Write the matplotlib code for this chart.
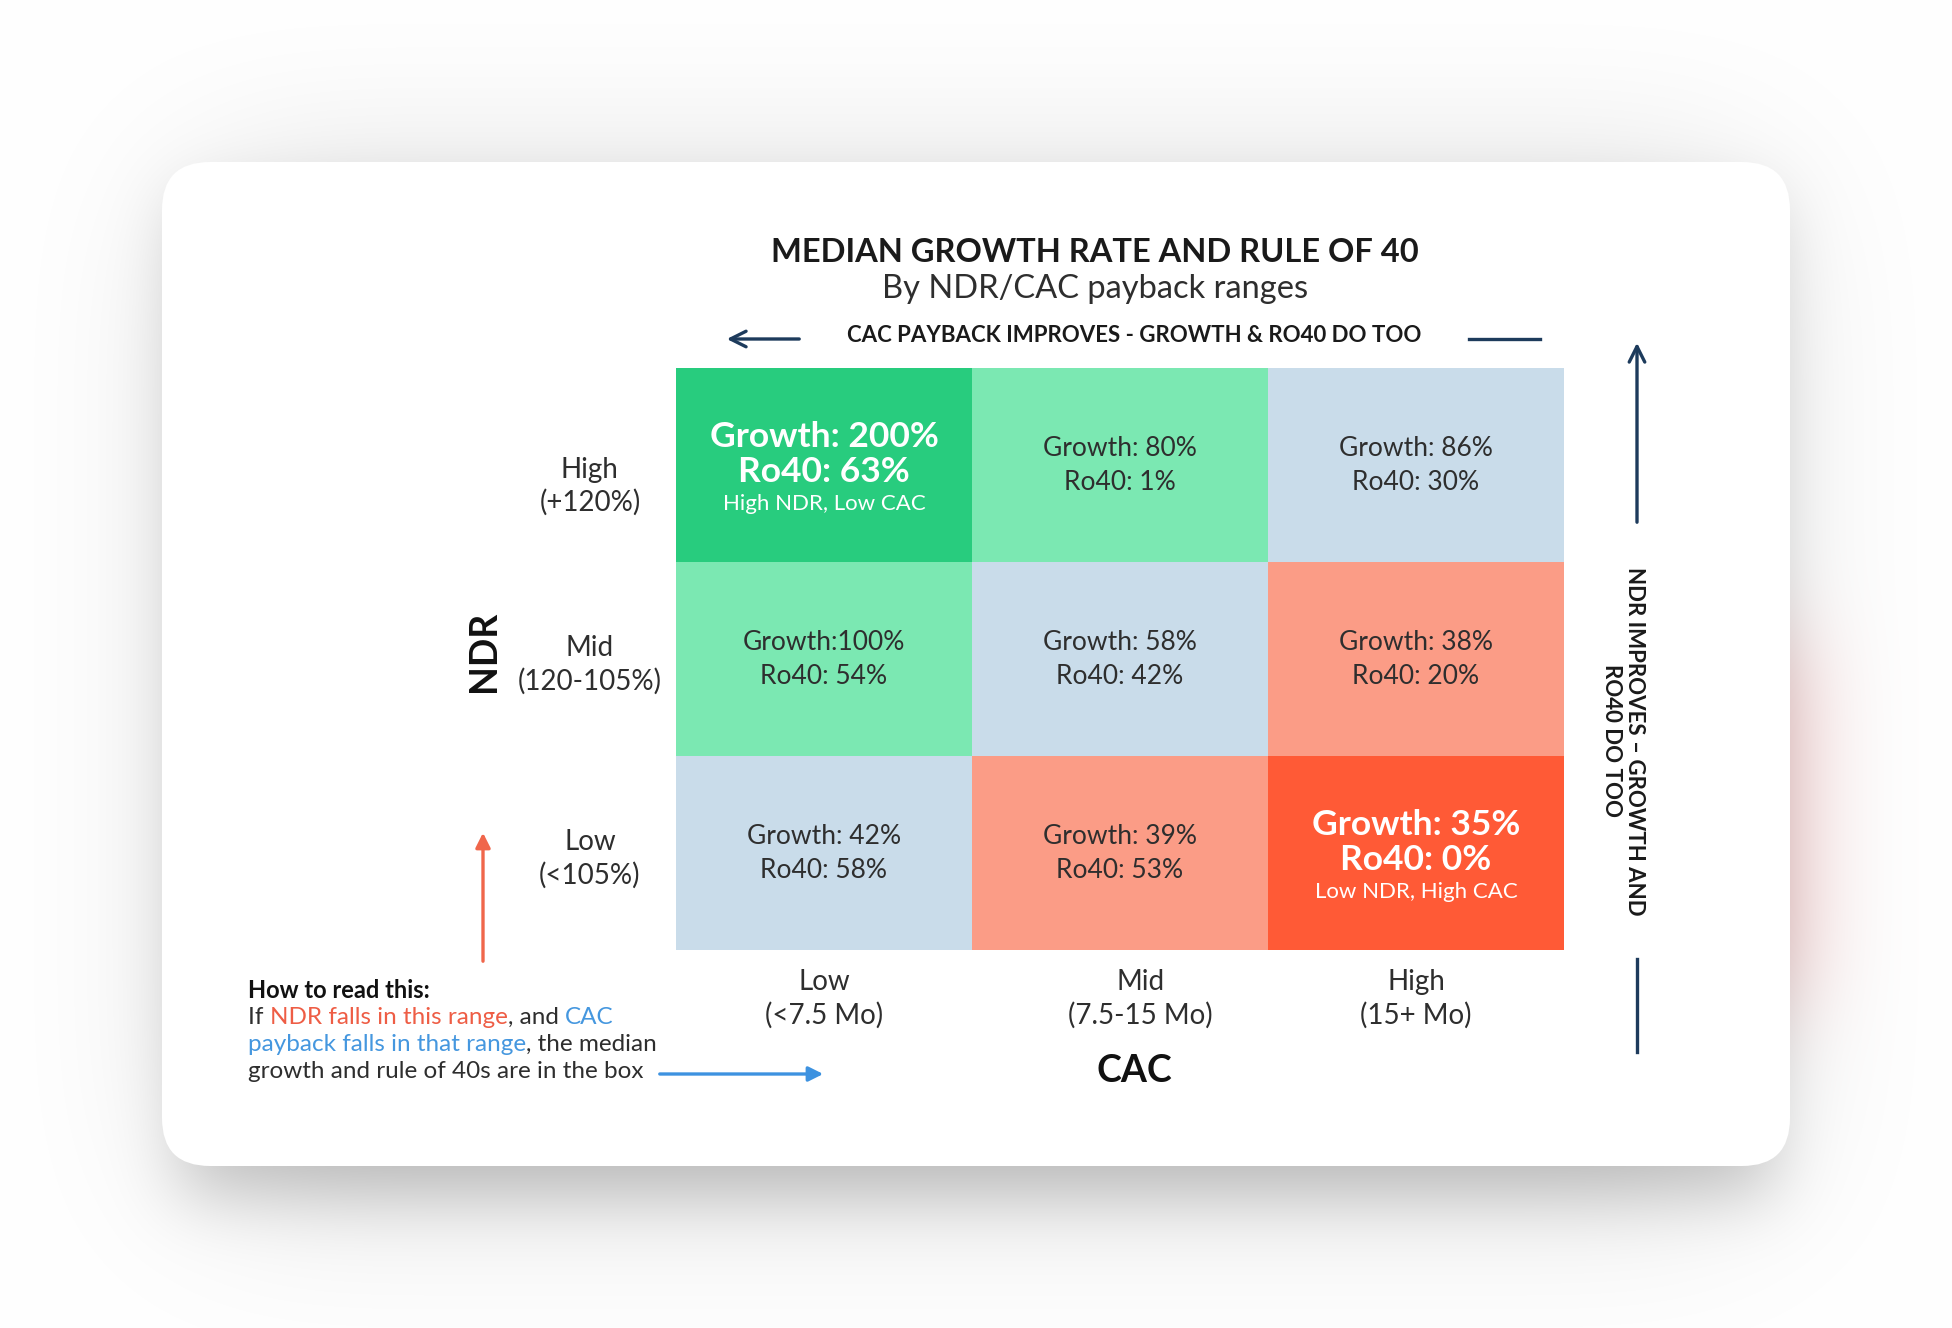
import numpy as np
import matplotlib.pyplot as plt
from matplotlib.colors import ListedColormap
from matplotlib.patches import FancyBboxPatch

plt.rcParams['font.family'] = ['Lato', 'DejaVu Sans']

# --- data -------------------------------------------------------------
ndr_levels = ["High\n(+120%)", "Mid\n(120-105%)", "Low\n(<105%)"]
cac_levels = ["Low\n(<7.5 Mo)", "Mid\n(7.5-15 Mo)", "High\n(15+ Mo)"]
growth = np.array([[200, 80, 86],
                   [100, 58, 38],
                   [42, 39, 35]])
ro40 = np.array([[63, 1, 30],
                 [54, 42, 20],
                 [58, 53, 0]])
tier = np.array([[4, 3, 2],
                 [3, 2, 1],
                 [2, 1, 0]])
notes = {(0, 0): "High NDR, Low CAC", (2, 2): "Low NDR, High CAC"}

tier_colors = ["#ff5a36", "#fb9c86", "#c9dcea", "#7be8b2", "#28cc7e"]
navy = "#1d3b5c"
dark = "#2e2e2e"
red_txt = "#ee5d45"
blue_txt = "#4597df"

W, H = 1952, 1328
fig = plt.figure(figsize=(W / 100, H / 100), dpi=100)
fig.patch.set_facecolor('white')

bg = fig.add_axes([0, 0, 1, 1])
bg.axis('off')


def box1d(a, r, axis):
    a = np.moveaxis(a, axis, -1)
    p = np.pad(a, [(0, 0)] * (a.ndim - 1) + [(r + 1, r)], mode='edge')
    c = np.cumsum(p, axis=-1)
    out = (c[..., 2 * r + 1:] - c[..., :-2 * r - 1]) / (2 * r + 1)
    return np.moveaxis(out, -1, axis)


def blur(a, r):
    for _ in range(3):
        a = box1d(box1d(a, r, 0), r, 1)
    return a


# soft drop shadow behind the card (a wide haze plus a tighter shadow)
yy, xx = np.mgrid[0:H, 0:W]
wide_mask = ((xx >= 200) & (xx <= 1750) & (yy >= 190) & (yy <= 1180)).astype(float)
near_mask = ((xx >= 180) & (xx <= 1772) & (yy >= 200) & (yy <= 1195)).astype(float)
shade = blur(wide_mask, 85) * 0.16 + blur(near_mask, 30) * 0.17
red_mask = ((xx >= 1700) & (xx <= 1800) & (yy >= 640) & (yy <= 1000)).astype(float)
tint = blur(red_mask, 45) * 0.28
rgb = np.ones((H, W, 3))
rgb -= shade[..., None] * np.array([1.0, 1.0, 1.0])
rgb -= tint[..., None] * np.array([0.0, 0.6, 0.6])
bg.imshow(np.clip(rgb, 0, 1), extent=(0, W, H, 0), interpolation='nearest', zorder=0)
bg.set_xlim(0, W)
bg.set_ylim(H, 0)
bg.set_aspect('auto')

r = 48
card = FancyBboxPatch((162 + r, 162 + r), 1628 - 2 * r, 1004 - 2 * r,
                      boxstyle=f"round,pad={r},rounding_size={r}",
                      fc='white', ec='none', zorder=1)
bg.add_patch(card)

# --- titles -----------------------------------------------------------
bg.text(1095, 253, "MEDIAN GROWTH RATE AND RULE OF 40", ha='center', va='center',
        fontsize=23.5, fontweight='bold', color='#1a1a1a', zorder=3)
bg.text(1095, 289, "By NDR/CAC payback ranges", ha='center', va='center',
        fontsize=23.5, color=dark, zorder=3)
bg.text(1134, 336, "CAC PAYBACK IMPROVES - GROWTH & RO40 DO TOO", ha='center', va='center',
        fontsize=16, fontweight='bold', color='#1a1a1a', zorder=3)

arrow_kw = dict(arrowstyle='->', color=navy, lw=2.4, mutation_scale=28)
bg.annotate("", xy=(724, 339), xytext=(802, 339), arrowprops=arrow_kw, zorder=3)
bg.plot([1469, 1540], [339, 339], color=navy, lw=2.4, zorder=3)
bg.annotate("", xy=(1637, 340), xytext=(1637, 525), arrowprops=arrow_kw, zorder=3)
bg.plot([1637, 1637], [959, 1052], color=navy, lw=2.4, zorder=3)
bg.text(1623, 741, "NDR IMPROVES – GROWTH AND\nRO40 DO TOO", rotation=270,
        ha='center', va='center', multialignment='center', fontsize=16,
        fontweight='bold', color='#1a1a1a', linespacing=1.15, zorder=3)

bg.text(484, 651, "NDR", rotation=90, ha='center', va='center', fontsize=27,
        fontweight='bold', color='#111111', zorder=3)
bg.text(1134, 1071, "CAC", ha='center', va='center', fontsize=27,
        fontweight='bold', color='#111111', zorder=3)

bg.annotate("", xy=(483, 830), xytext=(483, 964),
            arrowprops=dict(arrowstyle='-|>', color="#f0664b", lw=2.4, mutation_scale=22),
            zorder=3)
bg.annotate("", xy=(826, 1074), xytext=(657, 1074),
            arrowprops=dict(arrowstyle='-|>', color="#3d92e0", lw=2.4, mutation_scale=22),
            zorder=3)

# --- how to read ------------------------------------------------------
renderer = fig.canvas.get_renderer()


def runs(x, y, parts, size=17.5):
    for txt, col, wt in parts:
        t = bg.text(x, y, txt, ha='left', va='baseline', fontsize=size,
                    color=col, fontweight=wt, zorder=3)
        x += t.get_window_extent(renderer).width


runs(248, 998, [("How to read this:", '#111111', 'bold')], size=17)
runs(248, 1024, [("If ", dark, 'normal'), ("NDR falls in this range", red_txt, 'normal'),
                 (", and ", dark, 'normal'), ("CAC", blue_txt, 'normal')])
runs(248, 1051, [("payback falls in that range", blue_txt, 'normal'),
                 (", the median", dark, 'normal')])
runs(248, 1078, [("growth and rule of 40s are in the box", dark, 'normal')])

# --- grid -------------------------------------------------------------
gx0, gx1, gy0, gy1 = 676, 1564, 368, 950
ax = fig.add_axes([gx0 / W, 1 - gy1 / H, (gx1 - gx0) / W, (gy1 - gy0) / H], zorder=4)
ax.pcolormesh(tier, cmap=ListedColormap(tier_colors), vmin=-0.5, vmax=4.5)
ax.set_xlim(0, 3)
ax.set_ylim(3, 0)
for sp in ax.spines.values():
    sp.set_visible(False)

ax.set_xticks([0.5, 1.57, 2.5])
ax.set_xticklabels(cac_levels, fontsize=20, color=dark, linespacing=1.3)
ax.set_yticks([0.58, 1.5, 2.5])
ax.set_yticklabels(ndr_levels, fontsize=20, color=dark, ha='center', linespacing=1.3)
ax.tick_params(axis='x', length=0, pad=14)
ax.tick_params(axis='y', length=0, pad=62)

for i in range(3):
    for j in range(3):
        sep = "" if growth[i, j] >= 100 and (i, j) not in notes else " "
        if (i, j) in notes:
            ax.text(j + 0.5, i + 0.5 - 0.145, f"Growth: {growth[i, j]}%", ha='center', va='center',
                    fontsize=25.5, fontweight='bold', color='white')
            ax.text(j + 0.5, i + 0.5 + 0.035, f"Ro40: {ro40[i, j]}%", ha='center', va='center',
                    fontsize=25.5, fontweight='bold', color='white')
            ax.text(j + 0.5, i + 0.5 + 0.2, notes[(i, j)], ha='center', va='center',
                    fontsize=16, color='white')
        else:
            ax.text(j + 0.5, i + 0.5, f"Growth:{sep}{growth[i, j]}%\nRo40: {ro40[i, j]}%",
                    ha='center', va='center', fontsize=19, color=dark, linespacing=1.45)

fig.savefig("out.png", dpi=100, facecolor=fig.get_facecolor())
